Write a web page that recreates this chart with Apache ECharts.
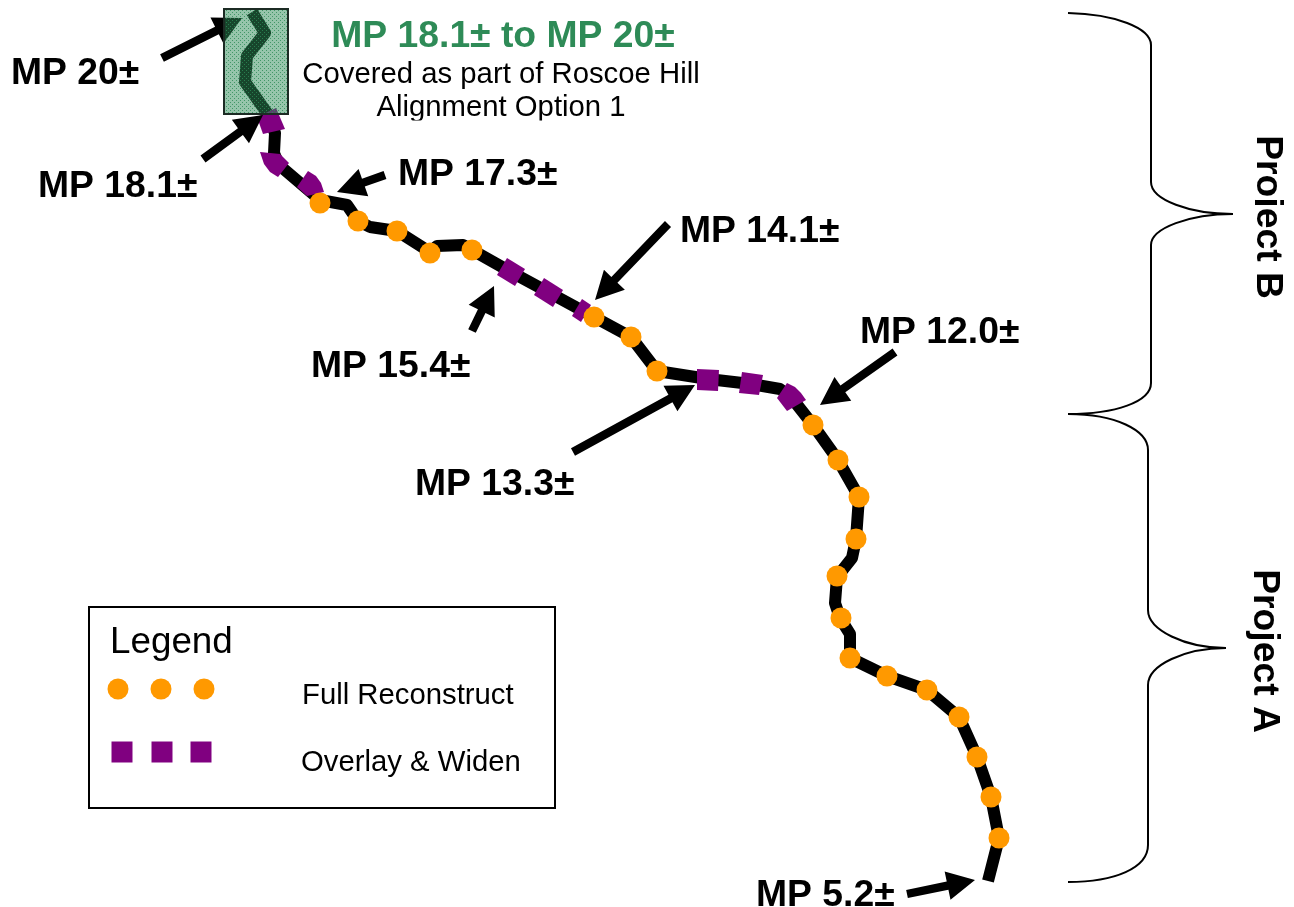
<!DOCTYPE html>
<html><head><meta charset="utf-8">
<style>html,body{margin:0;padding:0;background:#fff}#c{width:1294px;height:907px}</style>
<script src="https://cdn.jsdelivr.net/npm/echarts@6/dist/echarts.min.js"></script>
</head><body><div id="c"></div>
<script>
const routePoints = [[252,12],[265,33],[247,56],[245,82],[267,113],[275,133],[274,153],[279,165],[320,200],[347,205],[358,221],[370,227],[397,231],[430,252],[437,246],[463,245],[472,250],[511,272],[548,292],[594,317],[631,337],[657,371],[708,379],[751,384],[780,389],[791,397],[813,425],[838,460],[859,497],[856,539],[852,558],[837,577],[835,603],[840,618],[850,634],[850,658],[887,676],[927,690],[959,717],[977,757],[991,797],[999,838],[988,881]];
const fullReconstructPoints = [[320,203],[358,221],[397,231],[430,253],[472,250],[594,317],[631,337],[657,371],[813,425],[838,460],[859,497],[856,539],[837,576],[841,618],[850,658],[887,676],[927,690],[959,717],[977,757],[991,797],[999,838]];
const overlaySegments = [
  [[257,117],[276,108],[285,129],[263,134]],
  [[260,152],[280,154],[289,163],[278,177],[270,172],[264,164]],
  [[308,171],[316,176],[321,183],[324,192],[307,196],[297,187]],
  [[507,258],[525,269],[515,286],[497,275]],
  [[544,278],[563,290],[553,307],[534,295]],
  [[582,299],[591,305],[581,322],[572,316]],
  [[697,369],[719,370],[718,391],[697,390]],
  [[742,372],[763,375],[759,395],[739,393]],
  [[787,383],[795,387],[801,393],[806,400],[787,411],[777,398]]
];
const arrows = [[162,58,242,18],[203,159,263,115],[385,175,337,192],[668,224,595,300],[472,331,494,286],[573,452,695,385],[895,352,820,405],[907,894,975,880]];
const coveredBox = [224,9,288,114];
const legendBox = [89,607,555,808];
const textMask = [370,120.5,632,126];
const projectMask = [1240,137,1255,297];
const legendCircles = [[118,689],[161,689],[204,689]];
const legendSquares = [[122,752],[162,752],[201,752]];
const braceStraights = [[1151,45,1151,182],[1151,245,1151,383],[1148,450,1148,610],[1148,685,1148,845]];
const braceCurves = [
  [1068,13,1115,14,1151,28,1151,45],
  [1151,182,1151,200,1190,214,1233,214],
  [1233,214,1190,214,1151,228,1151,245],
  [1151,383,1151,402,1115,414,1068,414],
  [1068,414,1115,414,1148,430,1148,450],
  [1148,610,1148,630,1185,648,1226,648],
  [1226,648,1185,648,1148,665,1148,685],
  [1148,845,1148,868,1115,882,1068,882]
];
const boldLabels = [["MP 20±",11,73.5],["MP 18.1±",38,186.5],["MP 17.3±",398,174.5],["MP 14.1±",680,231.5],["MP 15.4±",311,366.5],["MP 13.3±",415,484.5],["MP 12.0±",860,332.5],["MP 5.2±",756,895.5]];
const titleLabel = ["MP 18.1± to MP 20±",503,36.5];
const noteLabels = [["Covered as part of Roscoe Hill",501,75],["Alignment Option 1",501,108]];
const legendTitle = ["Legend",110,643];
const legendLabels = [["Full Reconstruct",302,696],["Overlay & Widen",301,763]];
const projectLabels = [["Project B",1267,217],["Project A",1264,651]];

const FONT = '"Liberation Sans", Arial, sans-serif';
const GREEN = '#2e8b57', PURPLE = '#800080', ORANGE = '#ff9900';

const tile = document.createElement('canvas');
tile.width = 4; tile.height = 4;
const g = tile.getContext('2d');
g.fillStyle = 'rgba(46,139,87,0.50)'; g.fillRect(0,0,4,4);
g.fillStyle = 'rgba(46,139,87,0.80)'; g.fillRect(0,0,1,1); g.fillRect(2,2,1,1);

function textSeries(rows, font) {
  return {
    type: 'custom', coordinateSystem: 'cartesian2d', silent: true, z: font.z || 8,
    data: rows.map(r => [r[1], r[2], r[0]]),
    encode: {x: 0, y: 1},
    renderItem(p, api) {
      const c = api.coord([api.value(0), api.value(1)]);
      const text = rows[p.dataIndex][0];
      return {type: 'text', x: c[0], y: c[1], rotation: font.rotation || 0,
        style: {text, fill: font.color || '#000', font: `${font.weight||'normal'} ${font.size}px ${FONT}`,
          align: font.align || 'left', verticalAlign: 'middle'}};
    }
  };
}
function rectSeries(rect, style, z) {
  return {
    type: 'custom', coordinateSystem: 'cartesian2d', silent: true, z,
    data: [rect], encode: {x: [0,2], y: [1,3]},
    renderItem(p, api) {
      const a = api.coord([rect[0], rect[1]]), b = api.coord([rect[2], rect[3]]);
      return {type: 'rect', shape: {x: a[0], y: a[1], width: b[0]-a[0], height: b[1]-a[1]}, style};
    }
  };
}
const option = {
  animation: false,
  backgroundColor: '#fff',
  grid: {left: 0, right: 0, top: 0, bottom: 0},
  xAxis: {type: 'value', min: 0, max: 1294, show: false},
  yAxis: {type: 'value', min: 0, max: 907, inverse: true, show: false},
  series: [
    rectSeries(legendBox, {fill: '#fff', stroke: '#000', lineWidth: 2}, 1),
    {type: 'line', data: routePoints, symbol: 'none', z: 2,
      lineStyle: {color: '#000', width: 12, join: 'round', cap: 'butt'}},
    {type: 'custom', coordinateSystem: 'cartesian2d', silent: true, z: 3,
      data: overlaySegments.map((s, i) => [s[0][0], s[0][1], i]), encode: {x: 0, y: 1},
      renderItem(p, api) {
        return {type: 'polygon', shape: {points: overlaySegments[p.dataIndex].map(q => api.coord(q))},
          style: {fill: PURPLE}};
      }},
    {type: 'scatter', data: fullReconstructPoints, symbol: 'circle', symbolSize: 21, z: 4,
      itemStyle: {color: ORANGE, opacity: 1}},
    rectSeries(coveredBox, {fill: {image: tile, repeat: 'repeat'}, stroke: '#1c2b24', lineWidth: 2}, 5),
    {type: 'custom', coordinateSystem: 'cartesian2d', silent: true, z: 4,
      data: arrows, encode: {x: [0,2], y: [1,3]},
      renderItem(p, api) {
        const r = arrows[p.dataIndex];
        const a = api.coord([r[0], r[1]]), b = api.coord([r[2], r[3]]);
        const dx = b[0]-a[0], dy = b[1]-a[1], L = Math.hypot(dx, dy), ux = dx/L, uy = dy/L;
        const nx = -uy, ny = ux, hw = 4.2, hh = 14.5, hl = 28;
        const bx = b[0]-ux*hl, by = b[1]-uy*hl;
        return {type: 'polygon', shape: {points: [
          [a[0]+nx*hw, a[1]+ny*hw],[bx+nx*hw, by+ny*hw],[bx+nx*hh, by+ny*hh],b,
          [bx-nx*hh, by-ny*hh],[bx-nx*hw, by-ny*hw],[a[0]-nx*hw, a[1]-ny*hw]]},
          style: {fill: '#000'}};
      }},
    {type: 'custom', coordinateSystem: 'cartesian2d', silent: true, z: 4,
      data: braceCurves, encode: {x: [0,6], y: [1,7]},
      renderItem(p, api) {
        const r = braceCurves[p.dataIndex];
        const c = (i) => api.coord([r[i], r[i+1]]);
        const s = c(0), c1 = c(2), c2 = c(4), e = c(6);
        return {type: 'bezierCurve', shape: {x1: s[0], y1: s[1], cpx1: c1[0], cpy1: c1[1], cpx2: c2[0], cpy2: c2[1], x2: e[0], y2: e[1]},
          style: {stroke: '#000', lineWidth: 2, fill: null}};
      }},
    {type: 'custom', coordinateSystem: 'cartesian2d', silent: true, z: 4,
      data: braceStraights, encode: {x: [0,2], y: [1,3]},
      renderItem(p, api) {
        const r = braceStraights[p.dataIndex];
        const a = api.coord([r[0], r[1]]), b = api.coord([r[2], r[3]]);
        return {type: 'line', shape: {x1: a[0], y1: a[1], x2: b[0], y2: b[1]},
          style: {stroke: '#000', lineWidth: 2}};
      }},
    textSeries(boldLabels, {size: 37.3, weight: 'bold'}),
    textSeries([titleLabel], {size: 37.3, weight: 'bold', color: GREEN, align: 'center'}),
    textSeries(noteLabels, {size: 29.3, align: 'center'}),
    rectSeries(textMask, {fill: '#fff'}, 9),
    textSeries([legendTitle], {size: 36.8}),
    textSeries(legendLabels, {size: 29.3}),
    textSeries(projectLabels, {size: 37.3, weight: 'bold', align: 'center', rotation: -Math.PI/2}),
    rectSeries(projectMask, {fill: '#fff'}, 9),
    {type: 'scatter', data: legendCircles, symbol: 'circle', symbolSize: 21, z: 6, itemStyle: {color: ORANGE, opacity: 1}},
    {type: 'scatter', data: legendSquares, symbol: 'rect', symbolSize: 21, z: 6, itemStyle: {color: PURPLE, opacity: 1}}
  ]
};
const chart = echarts.init(document.getElementById('c'), null, {renderer: 'canvas'});
chart.setOption(option);
</script></body></html>
